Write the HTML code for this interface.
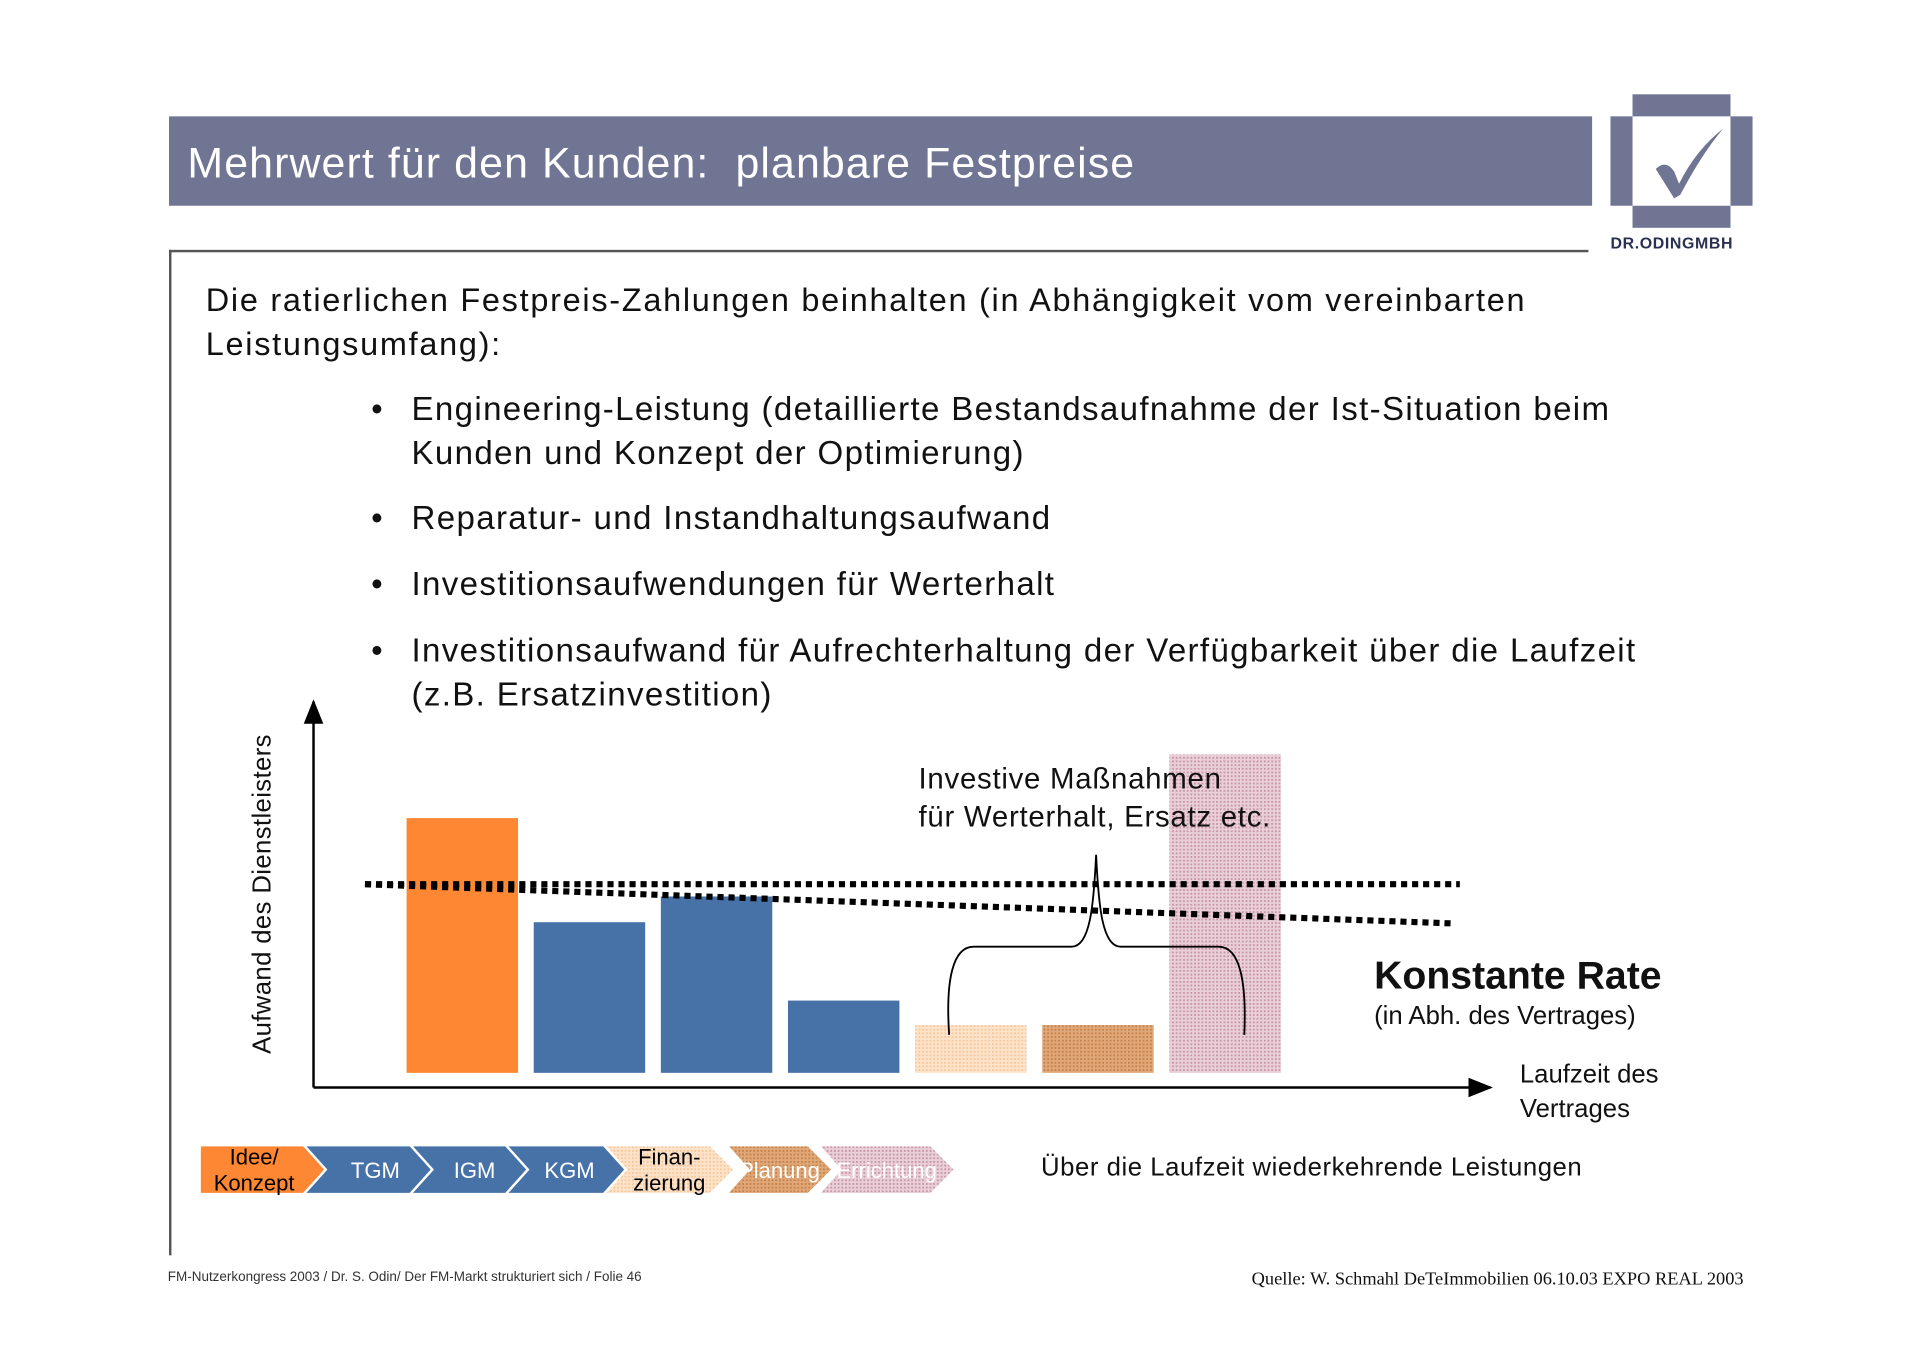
<!DOCTYPE html>
<html><head><meta charset="utf-8"><style>
html,body{margin:0;padding:0;background:#fff;width:1920px;height:1357px;overflow:hidden}
#w{position:absolute;left:0;top:0;width:1560px;height:1103px;transform:scale(1.2247);transform-origin:0 0;font-family:"Liberation Sans",Arial,sans-serif;color:#111}
.t{position:absolute;white-space:nowrap}
</style></head><body>
<div id="w">
<div class="t" style="left:138px;top:95px;width:1162px;height:73px;background:#6f7593"></div>
<div class="t" style="left:153px;top:114px;font-size:35px;letter-spacing:0.9px;color:#fff">Mehrwert für den Kunden:&nbsp; planbare Festpreise</div>
<svg class="t" style="left:1310px;top:72px" width="130" height="120" viewBox="1310 72 130 120">
<g fill="#6f7593"><rect x="1333" y="77" width="80" height="18"/><rect x="1315" y="95" width="18" height="73"/><rect x="1413" y="95" width="18" height="73"/><rect x="1333" y="168" width="80" height="18"/>
<path d="M1352 138 Q1360 130 1367 140 L1371 150 Q1385 122 1407 105 Q1390 125 1372 159 L1367 162 Z"/></g></svg>
<div class="t" style="left:1315px;top:191px;font-size:13px;font-weight:bold;color:#2a3050;letter-spacing:0.5px">DR.ODINGMBH</div>
<div class="t" style="left:138px;top:204px;width:1159px;height:1.5px;background:#555"></div>
<div class="t" style="left:138px;top:204px;width:1.5px;height:821px;background:#555"></div>
<div class="t" style="left:168px;top:227px;font-size:26.5px;letter-spacing:1.4px;line-height:36px">Die ratierlichen Festpreis-Zahlungen beinhalten (in Abhängigkeit vom vereinbarten<br>Leistungsumfang):</div>
<div style="position:absolute;left:0;top:0;font-size:27px;line-height:36px;letter-spacing:1.1px">
<div class="t" style="left:303px;top:316px">•</div><div class="t" style="left:336px;top:316px">Engineering-Leistung (detaillierte Bestandsaufnahme der Ist-Situation beim<br>Kunden und Konzept der Optimierung)</div>
<div class="t" style="left:303px;top:405px">•</div><div class="t" style="left:336px;top:405px">Reparatur- und Instandhaltungsaufwand</div>
<div class="t" style="left:303px;top:459px">•</div><div class="t" style="left:336px;top:459px">Investitionsaufwendungen für Werterhalt</div>
<div class="t" style="left:303px;top:513px">•</div><div class="t" style="left:336px;top:513px">Investitionsaufwand für Aufrechterhaltung der Verfügbarkeit über die Laufzeit<br>(z.B. Ersatzinvestition)</div>
</div>
<svg id="chart" class="t" style="left:0;top:0" width="1560" height="1103"></svg>
<div class="t" style="left:215px;top:730px;font-size:21px;letter-spacing:0.3px;transform:translate(-50%,-50%) rotate(-90deg)">Aufwand des Dienstleisters</div>
<div class="t" style="left:750px;top:621px;font-size:24px;letter-spacing:0.6px;line-height:31px">Investive Maßnahmen<br>für Werterhalt, Ersatz etc.</div>
<div class="t" style="left:1122px;top:778px;font-size:32px;font-weight:bold">Konstante Rate</div>
<div class="t" style="left:1122px;top:818px;font-size:21px">(in Abh. des Vertrages)</div>
<div class="t" style="left:1241px;top:864px;font-size:21px;line-height:28px">Laufzeit des<br>Vertrages</div>
<div class="t" style="left:850px;top:942px;font-size:21px;letter-spacing:0.45px">Über die Laufzeit wiederkehrende Leistungen</div>
<div class="t" style="left:137px;top:1037px;font-size:11px;color:#333">FM-Nutzerkongress 2003 / Dr. S. Odin/ Der FM-Markt strukturiert sich / Folie 46</div>
<div class="t" style="left:1022px;top:1037px;font-size:15px;font-family:'Liberation Serif',serif">Quelle: W. Schmahl DeTeImmobilien 06.10.03 EXPO REAL 2003</div>
</div>
<script>
const phases=['Idee','TGM','IGM','KGM','Finanzierung','Planung','Errichtung'];
const costValues=[208,123,144,59,39,39,260];
const barFills=['#fd8732','#4672a8','#4672a8','#4672a8','url(#hPeach)','url(#hBrown)','url(#hPink)'];
const stepLabels=[['Idee/','Konzept'],['TGM'],['IGM'],['KGM'],['Finan-','zierung'],['Planung'],['Errichtung']];
const rateStart=154, rateEnd=154, declStart=154, declEnd=122;
const NS='http://www.w3.org/2000/svg';
const svg=document.getElementById('chart');
const x0=256,y0=876,bw=91,step=103.8,bx0=332;
const xBar=i=>bx0+i*step;
const yv=v=>y0-v;
function el(t,a){const e=document.createElementNS(NS,t);for(const k in a)e.setAttribute(k,a[k]);svg.appendChild(e);return e;}
const defs=el('defs',{});
defs.innerHTML='<pattern id="hPeach" width="3" height="3" patternUnits="userSpaceOnUse"><rect width="3" height="3" fill="#fde3c9"/><rect width="1.5" height="1.5" fill="#f6c79c"/></pattern><pattern id="hBrown" width="3" height="3" patternUnits="userSpaceOnUse"><rect width="3" height="3" fill="#e0a878"/><rect width="1.5" height="1.5" fill="#c7814a"/></pattern><pattern id="hPink" width="3" height="3" patternUnits="userSpaceOnUse"><rect width="3" height="3" fill="#e9cfd8"/><rect width="1.5" height="1.5" fill="#c996a8"/></pattern><marker id="ar" markerWidth="10" markerHeight="10" refX="9" refY="5" orient="auto"><path d="M0,1 L10,5 L0,9 Z" fill="#000"/></marker>';
costValues.forEach((v,i)=>{const r=el('rect',{x:xBar(i),y:yv(v),width:bw,height:v,fill:barFills[i]});

});
const ax=el('line',{x1:x0,y1:888,x2:x0,y2:573,stroke:'#000','stroke-width':2,'marker-end':'url(#ar)'});

const xx=el('line',{x1:x0,y1:888,x2:1217,y2:888,stroke:'#000','stroke-width':2,'marker-end':'url(#ar)'});

const l1=el('line',{x1:298,y1:yv(rateStart),x2:1192,y2:yv(rateEnd),stroke:'#000','stroke-width':5,'stroke-dasharray':'5 4'});

const l2=el('line',{x1:298,y1:yv(declStart),x2:1186,y2:yv(declEnd),stroke:'#000','stroke-width':5,'stroke-dasharray':'5 4'});

const br=el('path',{d:'M775 845 C772 800 778 773 795 773 L875 773 C890 773 893 740 895 698 C897 740 900 773 915 773 L995 773 C1012 773 1018 800 1016 845',fill:'none',stroke:'#000','stroke-width':1.5});

const sx=[163,248,335,413,493,593,668],ex=[268,365,440,517,600,680,780];
const sFill=['#fd8732','#4672a8','#4672a8','#4672a8','url(#hPeach)','url(#hBrown)','url(#hPink)'];
const tCol=['#000','#fff','#fff','#fff','#000','#fff','#fff'];
stepLabels.forEach((lb,i)=>{const a=sx[i],b=ex[i],t=935,bt=975,m=955,n=i==0?0:18;
const p=el('path',{d:`M${a} ${t} L${b-20} ${t} L${b} ${m} L${b-20} ${bt} L${a} ${bt} L${a+n} ${m} Z`,fill:sFill[i],stroke:'#fff','stroke-width':2});


const cx=(a+b)/2+(i==0?-8:0);
lb.forEach((s,j)=>{const tx=el('text',{x:cx,y:lb.length==1?962:951+j*21,'text-anchor':'middle','font-size':18,fill:tCol[i],'font-family':'Liberation Sans, sans-serif'});tx.textContent=s;

});});
</script>
</body></html>
